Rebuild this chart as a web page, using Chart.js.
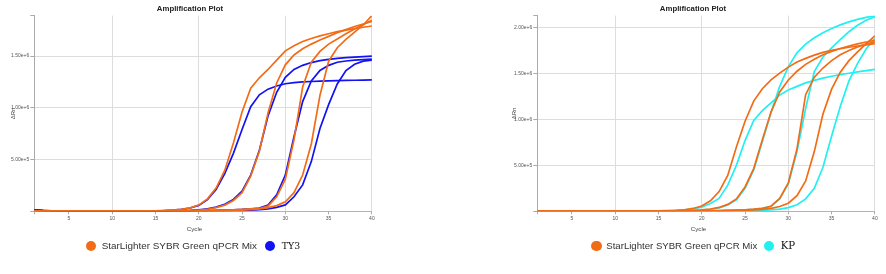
<!DOCTYPE html>
<html>
<head>
<meta charset="utf-8">
<script src="https://cdn.jsdelivr.net/npm/chart.js@4.4.1/dist/chart.umd.min.js"></script>
<style>
html,body{margin:0;padding:0;background:#fff;}
body{width:886px;height:274px;position:relative;overflow:hidden;font-family:"Liberation Sans",Arial,sans-serif;}
.panel{position:absolute;top:0;width:380px;height:274px;}
.panel canvas{position:absolute;left:0;top:0;}
.xt{position:absolute;font-size:6.2px;line-height:8px;color:#444;transform:translateX(-50%);white-space:nowrap;}
.dot{position:absolute;width:10.6px;height:10.6px;border-radius:50%;}
.lt{position:absolute;white-space:nowrap;color:#333;line-height:12px;}
.lt.serif{font-family:"DejaVu Serif","Liberation Serif",serif;color:#111;}
</style>
</head>
<body>
<div class="panel" id="pL" style="left:0px;"><canvas id="cL" width="380" height="236"></canvas></div>
<div class="panel" id="pR" style="left:503px;"><canvas id="cR" width="380" height="236"></canvas></div>
<script>
// ---------- data ----------
const cycles = [1,2,3,4,5,6,7,8,9,10,11,12,13,14,15,16,17,18,19,20,21,22,23,24,25,26,27,28,29,30,31,32,33,34,35,36,37,38,39,40];

const chartTitle = 'Amplification Plot';
const xAxisTitle = 'Cycle';
const yAxisTitle = 'ΔRn';
const nameStarLighter = 'StarLighter SYBR Green qPCR Mix';
const nameLeftTarget = 'TY3';
const nameRightTarget = 'KP';

const xTickValues = [1,5,10,15,20,25,30,35,40];
const xTickLabels = [5,10,15,20,25,30,35,40];
const xGridValues = [10,20,30,40];
const yTickLabelsLeft = [500000,1000000,1500000];
const yTickLabelsRight = [500000,1000000,1500000,2000000];
const yMaxLeft = 1890000;
const yMaxRight = 2130000;

// left panel: StarLighter (orange) and TY3 (blue)
const leftStarLighter1 = [4000,3000,2500,2000,2000,1500,1500,1500,2000,2000,2000,2500,2500,3000,4000,6500,11000,19000,33000,60000,120000,225000,395000,660000,960000,1190000,1290000,1370000,1460000,1550000,1600000,1640000,1670000,1695000,1715000,1735000,1750000,1765000,1778000,1790000];
const leftStarLighter2 = [3000,2500,2000,2000,1500,1500,1500,1500,1500,1500,2000,2000,2000,2000,2500,3000,4000,5500,8000,12000,20000,35000,60000,105000,180000,340000,580000,950000,1240000,1415000,1510000,1570000,1615000,1655000,1690000,1725000,1755000,1785000,1810000,1835000];
const leftStarLighter3 = [3000,2500,2000,2000,1500,1500,1500,1500,1500,1500,1500,1500,2000,2000,2000,2500,3000,3500,4500,5500,7000,9000,11000,14000,18000,23000,27000,50000,140000,310000,690000,1200000,1440000,1545000,1615000,1665000,1715000,1760000,1805000,1845000];
const leftStarLighter4 = [3000,2500,2000,2000,1500,1500,1500,1500,1500,1500,1500,1500,1500,2000,2000,2000,2500,2500,3000,3500,4000,5000,6000,8000,11000,15000,22000,35000,55000,92000,180000,350000,650000,1120000,1450000,1580000,1660000,1730000,1800000,1890000];
const leftTY3_1 = [12000,7000,4000,3000,2500,2000,1500,1500,1500,2000,2000,2500,3000,3500,4500,7000,11000,19000,32000,57000,112000,210000,365000,560000,790000,1010000,1125000,1180000,1210000,1232000,1243000,1250000,1254000,1257000,1260000,1262000,1264000,1266000,1268000,1270000];
const leftTY3_2 = [11000,6000,3500,2500,2000,1500,1500,1500,1500,1500,1500,2000,2000,2000,2500,3000,4000,6000,9000,14000,23000,40000,68000,115000,195000,350000,590000,920000,1150000,1295000,1370000,1410000,1437000,1455000,1468000,1477000,1484000,1490000,1495000,1500000];
const leftTY3_3 = [10000,6000,3500,2500,2000,1500,1500,1500,1500,1500,1500,1500,1500,2000,2000,2500,3000,3500,4500,5500,7000,8500,11000,14000,18000,24000,32000,60000,160000,350000,720000,1060000,1260000,1360000,1410000,1440000,1452000,1460000,1466000,1470000];
const leftTY3_4 = [10000,6000,3500,2500,2000,1500,1500,1500,1500,1500,1500,1500,1500,1500,1500,2000,2000,2500,2500,3000,3500,4000,4500,5500,7000,10000,15000,24000,38000,62000,140000,255000,480000,800000,1030000,1230000,1360000,1420000,1450000,1460000];

// right panel: StarLighter (orange) and KP (cyan)
const rightStarLighter1 = [3000,2500,2500,2000,2000,2000,2000,2000,2500,2500,2500,3000,3000,3500,4500,6500,10000,17000,31000,58000,115000,215000,390000,700000,980000,1200000,1335000,1430000,1505000,1570000,1625000,1665000,1700000,1730000,1752000,1770000,1786000,1800000,1812000,1825000];
const rightStarLighter2 = [2500,2000,2000,2000,1500,1500,1500,1500,1500,1500,2000,2000,2000,2000,2500,3500,5000,7000,10000,15000,25000,42000,75000,135000,265000,465000,780000,1080000,1300000,1430000,1525000,1600000,1655000,1705000,1740000,1772000,1800000,1822000,1843000,1862000];
const rightStarLighter3 = [2500,2000,2000,1500,1500,1500,1500,1500,1500,1500,1500,1500,2000,2000,2000,2500,3000,3500,4000,5000,6000,8000,10000,13000,17000,23000,32000,55000,140000,310000,680000,1270000,1460000,1560000,1640000,1705000,1750000,1790000,1820000,1845000];
const rightStarLighter4 = [2500,2000,2000,1500,1500,1500,1500,1500,1500,1500,1500,1500,1500,1500,2000,2000,2000,2500,2500,3000,4000,5000,6500,8500,11000,15000,21000,32000,52000,88000,170000,330000,650000,1060000,1330000,1515000,1640000,1735000,1825000,1910000];
const rightKP1 = [2500,2000,2000,2000,1500,1500,1500,1500,1500,2000,2000,2000,2500,3000,4000,6000,9000,15000,26000,45000,85000,140000,285000,500000,770000,990000,1095000,1180000,1265000,1320000,1360000,1398000,1425000,1450000,1470000,1488000,1503000,1518000,1532000,1545000];
const rightKP2 = [2000,2000,1500,1500,1500,1500,1500,1500,1500,1500,1500,1500,2000,2000,2000,3000,4500,6500,9000,13000,22000,38000,70000,125000,250000,450000,760000,1075000,1360000,1575000,1725000,1820000,1890000,1945000,1990000,2030000,2062000,2090000,2112000,2130000];
const rightKP3 = [2000,1500,1500,1500,1500,1500,1500,1500,1500,1500,1500,1500,1500,1500,2000,2000,2500,3000,3500,4000,5000,7000,9000,12000,16000,22000,32000,55000,135000,300000,650000,1120000,1520000,1680000,1780000,1870000,1955000,2025000,2080000,2120000];
const rightKP4 = [2000,1500,1500,1500,1500,1500,1500,1500,1500,1500,1500,1500,1500,1500,1500,1500,1500,2000,2000,2000,2500,3000,4000,5000,6500,8500,11000,16000,24000,40000,72000,135000,250000,480000,820000,1140000,1420000,1610000,1770000,1880000];

// ---------- styles ----------
const ORANGE = '#f26c18';
const BLUE = '#1212f5';
const CYAN = '#22f0f0';

function buildPanel(cfg) {
  const datasets = cfg.series.map(s => ({
    label: s.name,
    data: cycles.map((c, i) => ({x: c, y: s.values[i]})),
    borderColor: s.color,
    backgroundColor: s.color,
    borderWidth: 1.7,
    pointRadius: 0,
    tension: 0,
    fill: false
  }));
  const yTickValues = [0].concat(cfg.yLabels, [cfg.yMax]);
  new Chart(document.getElementById(cfg.canvas), {
    type: 'line',
    data: {datasets},
    options: {
      responsive: false,
      animation: false,
      devicePixelRatio: 1,
      layout: {padding: 0},
      events: [],
      plugins: {
        legend: {display: false},
        tooltip: {enabled: false},
        title: {
          display: true, text: chartTitle, color: '#222',
          font: {family: 'Liberation Sans', size: 7.8, weight: 'bold', lineHeight: 1.2},
          padding: {top: 4, bottom: 2.3}
        }
      },
      scales: {
        x: {
          type: 'linear', min: 1, max: 40,
          afterFit: s => { s.height = 24.7; },
          afterBuildTicks: s => { s.ticks = xTickValues.map(v => ({value: v})); },
          ticks: {
            autoSkip: false, maxRotation: 0, padding: 1,
            color: '#555', font: {family: 'Liberation Sans', size: 5},
            callback: v => xTickLabels.includes(v) ? String(v) : ''
          },
          grid: {
            color: c => (c.tick && xGridValues.includes(c.tick.value)) ? '#dddddd' : 'rgba(0,0,0,0)',
            tickColor: '#aaaaaa', tickLength: 3, lineWidth: 1
          },
          border: {color: '#b4b4b4', width: 1}
        },
        y: {
          type: 'linear', min: 0, max: cfg.yMax,
          afterFit: s => { s.width = 34.3; },
          afterBuildTicks: s => { s.ticks = yTickValues.map(v => ({value: v})); },
          ticks: {
            autoSkip: false, padding: 1,
            color: '#555', font: {family: 'Liberation Sans', size: 5},
            callback: v => cfg.yLabels.includes(v) ? v.toExponential(2) : ''
          },
          grid: {
            color: c => (c.tick && cfg.yLabels.includes(c.tick.value)) ? '#dddddd' : 'rgba(0,0,0,0)',
            tickColor: '#aaaaaa', tickLength: 4, lineWidth: 1
          },
          border: {color: '#aaaaaa', width: 1},
          title: {
            display: true, text: yAxisTitle, color: '#444',
            font: {family: 'Liberation Sans', size: 6}, padding: {top: cfg.yTitlePad, bottom: 0}
          }
        },
        yR: {
          type: 'linear', position: 'right', display: true,
          grid: {display: false}, ticks: {display: false}, border: {display: false},
          afterFit: s => { s.width = 8.1; }
        }
      }
    }
  });

  // x-axis title and legend as text
  const panel = document.getElementById(cfg.panel);
  const xt = document.createElement('div');
  xt.className = 'xt'; xt.textContent = xAxisTitle;
  xt.style.left = cfg.xTitleX + 'px'; xt.style.top = '224.7px';
  panel.appendChild(xt);

  cfg.legend.forEach(item => {
    const d = document.createElement('div');
    d.className = 'dot';
    d.style.background = item.color;
    d.style.left = (item.dotX - 5.3) + 'px';
    d.style.top = (246 - 5.3) + 'px';
    panel.appendChild(d);
    const t = document.createElement('div');
    t.className = 'lt' + (item.serif ? ' serif' : '');
    t.textContent = item.name;
    t.style.left = item.textX + 'px';
    t.style.top = (245.6 - 6) + 'px';
    t.style.fontSize = item.size + 'px';
    panel.appendChild(t);
  });
}

buildPanel({
  panel: 'pL', canvas: 'cL', yMax: yMaxLeft, yLabels: yTickLabelsLeft, yTitlePad: 9.7, xTitleX: 194.5,
  series: [
    {name: nameStarLighter, color: ORANGE, values: leftStarLighter1},
    {name: nameStarLighter, color: ORANGE, values: leftStarLighter2},
    {name: nameStarLighter, color: ORANGE, values: leftStarLighter3},
    {name: nameStarLighter, color: ORANGE, values: leftStarLighter4},
    {name: nameLeftTarget, color: BLUE, values: leftTY3_1},
    {name: nameLeftTarget, color: BLUE, values: leftTY3_2},
    {name: nameLeftTarget, color: BLUE, values: leftTY3_3},
    {name: nameLeftTarget, color: BLUE, values: leftTY3_4}
  ],
  legend: [
    {name: nameStarLighter, color: ORANGE, dotX: 91, textX: 101.7, size: 9.9},
    {name: nameLeftTarget, color: BLUE, dotX: 270, textX: 281.7, size: 9.4, serif: true}
  ]
});

buildPanel({
  panel: 'pR', canvas: 'cR', yMax: yMaxRight, yLabels: yTickLabelsRight, yTitlePad: 8, xTitleX: 195.5,
  series: [
    {name: nameStarLighter, color: ORANGE, values: rightStarLighter1},
    {name: nameStarLighter, color: ORANGE, values: rightStarLighter2},
    {name: nameStarLighter, color: ORANGE, values: rightStarLighter3},
    {name: nameStarLighter, color: ORANGE, values: rightStarLighter4},
    {name: nameRightTarget, color: CYAN, values: rightKP1},
    {name: nameRightTarget, color: CYAN, values: rightKP2},
    {name: nameRightTarget, color: CYAN, values: rightKP3},
    {name: nameRightTarget, color: CYAN, values: rightKP4}
  ],
  legend: [
    {name: nameStarLighter, color: ORANGE, dotX: 93.7, textX: 103.3, size: 9.6},
    {name: nameRightTarget, color: CYAN, dotX: 266, textX: 277.7, size: 10.2, serif: true}
  ]
});
</script>
</body>
</html>
